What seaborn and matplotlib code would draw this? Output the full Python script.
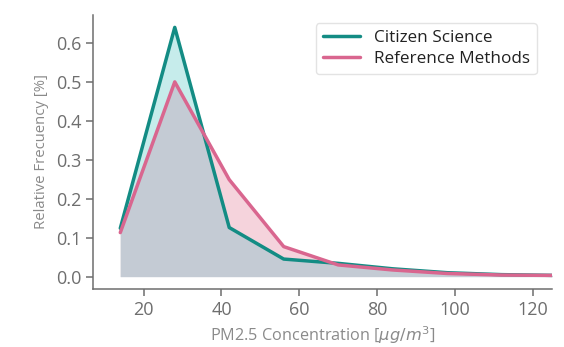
import numpy as np
import pandas as pd
import seaborn as sns
import matplotlib
matplotlib.use("Agg")
import matplotlib.pyplot as plt

# Data
concentration = [14, 28, 42, 56, 70, 84, 98, 112, 126, 140, 154]
citizen = [0.124, 0.640, 0.126, 0.045, 0.034, 0.020, 0.010, 0.005, 0.003, 0.002, 0.001]
reference = [0.113, 0.500, 0.249, 0.077, 0.030, 0.017, 0.008, 0.004, 0.003, 0.002, 0.001]
series_names = ["Citizen Science", "Reference Methods"]

df = pd.DataFrame({
    "conc": concentration * 2,
    "freq": citizen + reference,
    "source": [series_names[0]] * len(citizen) + [series_names[1]] * len(reference),
})

sns.set_style("ticks")
plt.rcParams["font.family"] = ["Open Sans", "DejaVu Sans"]
plt.rcParams["mathtext.fontset"] = "dejavusans"

fig = plt.figure(figsize=(5.64, 3.47), dpi=100)
ax = fig.add_axes([0.165, 0.167, 0.814, 0.79])

line_colors = ["#138C84", "#D9668F"]
fill_c = "#C6ECEB"
fill_r = "#F5D3DC"
fill_both = "#C4CBD4"

# dense grid only for rendering the overlap of the two piecewise-linear curves
grid = np.linspace(concentration[0], concentration[-1], 2000)
cit_i = np.interp(grid, concentration, citizen)
ref_i = np.interp(grid, concentration, reference)

ax.fill_between(concentration, 0, citizen, color=fill_c, lw=0, zorder=1)
ax.fill_between(concentration, 0, reference, color=fill_r, lw=0, zorder=1)
ax.fill_between(grid, 0, np.minimum(cit_i, ref_i), color=fill_both, lw=0, zorder=2)

sns.lineplot(data=df, x="conc", y="freq", hue="source", palette=line_colors,
             linewidth=2.5, ax=ax, zorder=3)

ax.set_xlim(7, 125)
ax.set_ylim(-0.032, 0.672)
ax.set_xticks([20, 40, 60, 80, 100, 120])
ax.set_yticks([0.0, 0.1, 0.2, 0.3, 0.4, 0.5, 0.6])
ax.set_yticklabels(["0.0", "0.1", "0.2", "0.3", "0.4", "0.5", "0.6"])

gray = "#6E6E6E"
ax.tick_params(colors=gray, labelsize=13, length=5, width=1.1)
for s in ["left", "bottom"]:
    ax.spines[s].set_color(gray)
    ax.spines[s].set_linewidth(1.1)
sns.despine(ax=ax)

ax.set_xlabel(r"PM2.5 Concentration [$\mu g/m^3$]", color="#8A8A8A", fontsize=11.7, labelpad=4)
ax.set_ylabel("Relative Frecuency [%]", color="#8A8A8A", fontsize=10.7, labelpad=5)

leg = ax.legend(loc="upper right", bbox_to_anchor=(0.985, 1.0), fontsize=12.3,
                frameon=True, handlelength=2.2, handletextpad=0.8, borderpad=0.4,
                labelspacing=0.3, title=None)
leg.get_frame().set_edgecolor("#DDDDDD")
for t in leg.get_texts():
    t.set_color("#222222")

fig.savefig("out.png", dpi=100)
